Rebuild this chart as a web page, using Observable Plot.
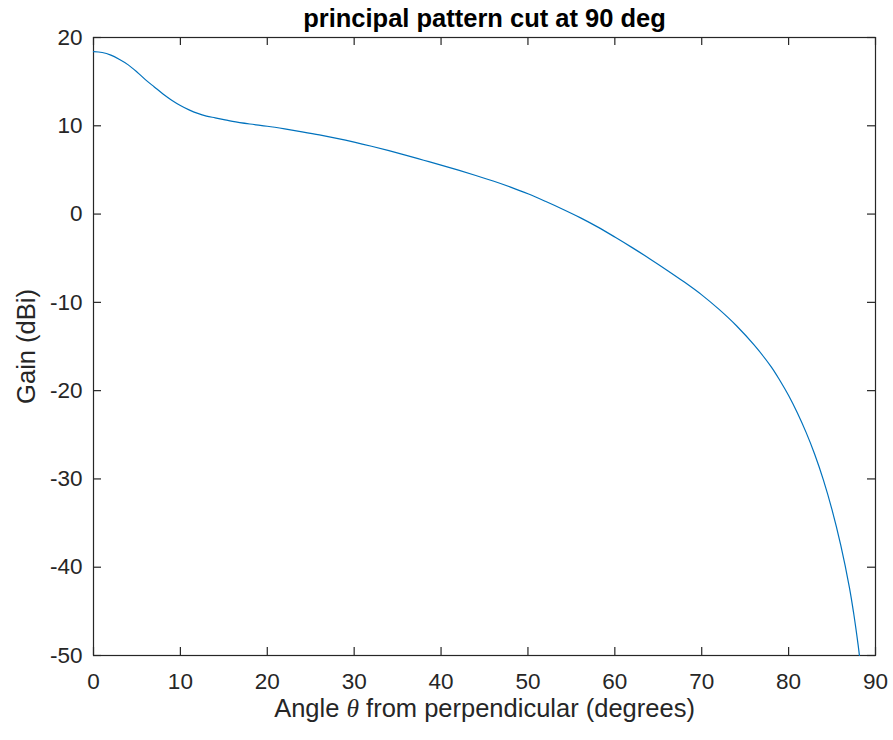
<!DOCTYPE html>
<html>
<head>
<meta charset="utf-8">
<script src="https://cdn.jsdelivr.net/npm/d3@7"></script>
<script src="https://cdn.jsdelivr.net/npm/@observablehq/plot@0.6"></script>
<style>
  html, body { margin: 0; padding: 0; background: #fff; }
  #chart svg { display: block; }
</style>
</head>
<body>
<div id="chart"></div>
<script>
// Principal-plane cut of the antenna gain pattern
const angle = [0, 1, 2, 3, 4, 5, 6, 7, 8, 9, 10, 11, 12, 13, 14, 15, 16, 18, 20, 22, 24, 26, 28, 30,
  32, 34, 36, 38, 40, 42, 44, 46, 48, 50, 52, 54, 56, 58, 60, 62, 64, 66, 68, 70, 72, 74, 76, 78,
  79, 80, 81, 82, 83, 84, 85, 86, 87, 87.5, 88, 88.15];
const gain = [18.4, 18.3, 18.0, 17.5, 16.9, 16.1, 15.2, 14.4, 13.6, 12.9, 12.3, 11.8, 11.4, 11.1, 10.9, 10.7, 10.5, 10.2, 9.95, 9.65, 9.32, 8.97, 8.58, 8.15,
  7.68, 7.18, 6.65, 6.1, 5.55, 4.97, 4.37, 3.74, 3.05, 2.3, 1.45, 0.55, -0.4, -1.45, -2.6, -3.8, -5.05, -6.35, -7.7, -9.15, -10.8, -12.65, -14.8, -17.3,
  -18.85, -20.55, -22.5, -24.7, -27.2, -30.1, -33.5, -37.5, -42.3, -45.3, -48.8, -50];

const xTicks = [0, 10, 20, 30, 40, 50, 60, 70, 80, 90];
const yTicks = [-50, -40, -30, -20, -10, 0, 10, 20];

const titleText = "principal pattern cut at 90 deg";
const xLabel = "Angle θ from perpendicular (degrees)";
const yLabel = "Gain (dBi)";

const data = angle.map((a, i) => ({angle: a, gain: gain[i]}));

const ink = "#262626";
const tickFont = 22.5;
const labelFont = 25.5;
const plain = (d) => `${d}`;

const W = 893, H = 740;
const margin = {left: 93, right: 18, top: 37, bottom: 85};
const frameW = W - margin.left - margin.right;
const frameH = H - margin.top - margin.bottom;
const tickLen = 8;
const tickStyle = {stroke: ink, strokeWidth: 1.2};

const chart = Plot.plot({
  width: W,
  height: H,
  marginLeft: margin.left,
  marginRight: margin.right,
  marginTop: margin.top,
  marginBottom: margin.bottom,
  style: {fontFamily: "'Liberation Sans', Arial, sans-serif", background: "#fff", color: ink},
  x: {domain: [0, 90]},
  y: {domain: [-50, 20]},
  marks: [
    Plot.frame({stroke: ink, strokeWidth: 1.2}),
    // inward ticks on all four sides of the box
    Plot.ruleX(xTicks, {x: (d) => d, insetTop: frameH - tickLen, ...tickStyle}),
    Plot.ruleX(xTicks, {x: (d) => d, insetBottom: frameH - tickLen, ...tickStyle}),
    Plot.ruleY(yTicks, {y: (d) => d, insetRight: frameW - tickLen, ...tickStyle}),
    Plot.ruleY(yTicks, {y: (d) => d, insetLeft: frameW - tickLen, ...tickStyle}),
    Plot.axisX(xTicks, {anchor: "bottom", tickSize: 0, tickPadding: 18, tickFormat: plain, fontSize: tickFont, fill: ink, label: null}),
    Plot.axisY(yTicks, {anchor: "left", tickSize: 0, tickPadding: 11, tickFormat: plain, fontSize: tickFont, fill: ink, label: null}),
    Plot.line(data, {x: "angle", y: "gain", stroke: "#0072BD", strokeWidth: 1.2, curve: "catmull-rom"}),
    Plot.text([titleText], {frameAnchor: "top", dy: -11, lineAnchor: "bottom", fontSize: 25.5, fontWeight: "bold", fill: "#000"}),
    Plot.text([xLabel], {frameAnchor: "bottom", dy: 61, lineAnchor: "bottom", fontSize: labelFont, fill: ink}),
    Plot.text([yLabel], {frameAnchor: "left", dx: -59, rotate: -90, textAnchor: "middle", lineAnchor: "bottom", fontSize: labelFont, fill: ink})
  ]
});

// set the theta symbol in italic serif, as in a TeX-style label
d3.select(chart).selectAll("text").each(function () {
  const t = this.textContent;
  if (t === xLabel) {
    const [before, after] = t.split("θ");
    const sel = d3.select(this).text(null);
    sel.append("tspan").text(before);
    sel.append("tspan").attr("font-style", "italic").attr("font-family", "'Liberation Serif', 'Times New Roman', serif").text("θ");
    sel.append("tspan").text(after);
  }
});

document.getElementById("chart").append(chart);
</script>
</body>
</html>
